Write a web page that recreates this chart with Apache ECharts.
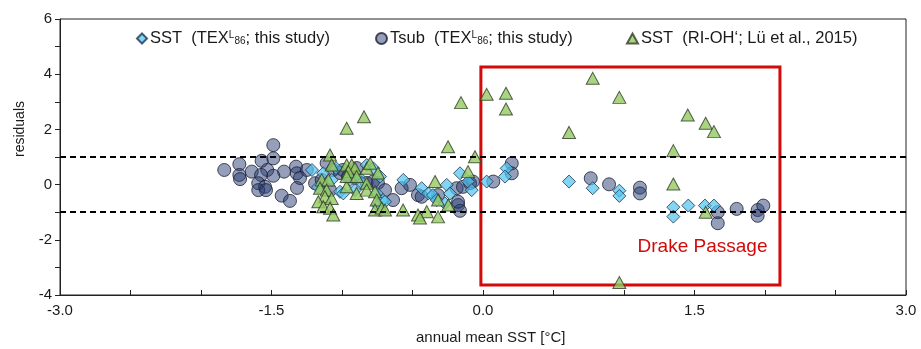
<!DOCTYPE html>
<html><head><meta charset="utf-8">
<script src="https://cdn.jsdelivr.net/npm/echarts@6/dist/echarts.min.js"></script>
<style>html,body{margin:0;padding:0;background:#fff}#c{width:921px;height:349px}</style>
</head><body><div id="c"></div>
<script>
// Tsub (TEX-L86, this study) - circles
var tsubX = [-1.835,-1.487,-1.487,-1.570,-1.728,-1.728,-1.723,-1.640,-1.530,-1.574,-1.411,-1.487,-1.594,-1.546,-1.594,-1.539,-1.428,-1.369,-1.326,-1.321,-1.319,-1.250,-1.191,-1.144,-1.109,-1.064,-1.014,-0.993,-0.896,-0.957,-0.825,-0.780,-0.745,-0.638,-0.577,-0.518,-0.461,-0.435,-0.319,-0.177,-0.163,-0.187,-0.142,-0.092,-0.071,0.204,0.204,0.073,0.764,0.894,1.113,1.113,1.665,1.665,1.799,1.948,1.948,1.988,-1.085,-1.298,-0.908,-0.695,-0.177];
var tsubY = [0.53,1.43,0.95,0.86,0.74,0.35,0.20,0.47,0.53,0.35,0.47,0.32,0.05,-0.08,-0.20,-0.20,-0.40,-0.59,0.65,0.41,-0.12,0.53,0.05,0.17,0.78,0.53,0.42,0.53,0.60,0.29,0.06,0.11,0.06,-0.56,-0.13,-0.01,-0.38,-0.44,-0.38,-0.74,-0.95,-0.13,-0.08,0.05,0.11,0.77,0.41,0.11,0.23,0.01,-0.11,-0.32,-1.00,-1.40,-0.88,-0.92,-1.13,-0.76,-0.20,0.24,0.24,-0.20,-0.62];
// SST (TEX-L86, this study) - diamonds
var sstTexX = [-0.825,-0.778,-0.884,-1.014,-0.991,-0.908,-1.073,-1.133,-0.730,-0.754,-0.943,-0.709,-0.745,-0.695,-0.565,-0.435,-0.388,-0.355,-0.328,-0.257,-0.234,-0.270,-0.163,-0.106,-0.080,0.026,0.168,0.156,0.610,0.778,0.967,0.967,1.350,1.350,1.456,1.574,1.638,-1.213,-1.043,-0.858,-1.170];
var sstTexY = [0.71,0.59,0.29,-0.26,-0.32,-0.20,0.17,0.41,0.29,-0.32,0.17,-0.56,-0.74,-0.62,0.17,-0.13,-0.32,-0.38,-0.56,-0.01,-0.32,-0.68,0.41,0.11,-0.20,0.11,0.59,0.29,0.11,-0.13,-0.22,-0.41,-0.82,-1.16,-0.76,-0.76,-0.76,0.53,0.60,0.06,-0.09];
// SST (RI-OH', Lu et al., 2015) - triangles
var sstRiX = [-1.085,-1.073,-0.967,-0.931,-0.908,-0.955,-0.825,-0.801,-1.144,-1.097,-1.156,-1.109,-1.121,-1.073,-1.168,-1.133,-1.085,-1.062,-0.967,-0.896,-0.825,-0.825,-0.766,-0.754,-0.766,-0.718,-0.967,-0.896,-0.745,-0.695,-0.340,-0.319,-0.246,-0.567,-0.461,-0.399,-0.319,-0.447,-0.106,-0.057,-0.248,-0.967,-0.844,-0.156,0.026,0.163,0.163,0.778,0.967,0.610,1.452,1.579,1.638,1.350,1.350,1.579,0.967];
var sstRiY = [1.07,0.71,0.71,0.71,0.59,0.47,0.59,0.77,0.17,0.17,-0.13,-0.20,-0.44,-0.50,-0.62,-0.80,-0.86,-1.10,-0.08,-0.32,0.05,-0.20,-0.26,-0.56,-0.92,-0.85,0.29,0.29,0.42,-0.92,0.11,-0.56,-0.74,-0.92,-1.10,-0.98,-1.17,-1.21,0.47,1.01,1.37,2.04,2.46,2.97,3.27,3.31,2.74,3.85,3.16,1.89,2.52,2.22,1.92,1.23,0.02,-1.00,-3.55];
// reference lines and Drake Passage box
var limitLines = [1, -1];
var boxX = [-0.015, 2.106];
var boxY = [-3.64, 4.26];
var xTicks = [-3.0, -1.5, 0.0, 1.5, 3.0];
var yTicks = [-4, -2, 0, 2, 4, 6];

function pairs(xs, ys){ return xs.map(function(x,i){ return [x, ys[i]]; }); }

var chart = echarts.init(document.getElementById('c'));
var FONT = '"Liberation Sans", Arial, Helvetica, sans-serif';
var rich = {
  n: {fontSize: 16.5, fontFamily: FONT, color: '#1a1a1a', lineHeight: 17},
  sup: {fontSize: 10, fontFamily: FONT, color: '#1a1a1a', verticalAlign: 'top', lineHeight: 17},
  sub: {fontSize: 10, fontFamily: FONT, color: '#1a1a1a', verticalAlign: 'bottom', lineHeight: 17, padding: [0,0,1,0]}
};
var legendText = {
  'SST (TEX)': '{n|SST  (TEX}{sup|L}{sub|86}{n|; this study)}',
  'Tsub': '{n|Tsub  (TEX}{sup|L}{sub|86}{n|; this study)}',
  'SST (RI-OH)': '{n|SST  (RI-OH\u2018; L\u00fc et al., 2015)}'
};
function mkLegend(name, left, w, h){
  return {
    data: [name], left: left, top: 30, padding: 0, itemWidth: w, itemHeight: h, itemGap: 4,
    selectedMode: false,
    formatter: function(n){ return legendText[n]; },
    textStyle: {rich: rich, padding: [0,0,0,-2]}
  };
}

var option = {
  animation: false,
  backgroundColor: '#fff',
  textStyle: {fontFamily: FONT},
  grid: {left: 60, right: 15, top: 19, bottom: 54, show: true, borderColor: '#222', borderWidth: 1, backgroundColor: 'transparent'},
  legend: [mkLegend('SST (TEX)', 136, 10, 10), mkLegend('Tsub', 375, 11, 11), mkLegend('SST (RI-OH)', 626, 11, 10)],
  xAxis: {
    type: 'value', min: -3, max: 3, interval: 0.5,
    axisLine: {onZero: false, lineStyle: {color: '#222', width: 1}},
    axisTick: {inside: true, length: 5, lineStyle: {color: '#222'}},
    splitLine: {show: false},
    axisLabel: {
      color: '#1a1a1a', fontSize: 15, fontFamily: FONT, margin: 8,
      formatter: function(v){
        for (var i=0;i<xTicks.length;i++) if (Math.abs(v - xTicks[i]) < 1e-6) return xTicks[i].toFixed(1);
        return '';
      }
    }
  },
  yAxis: {
    type: 'value', min: -4, max: 6, interval: 1,
    axisLine: {show: true, onZero: false, lineStyle: {color: '#222', width: 1}},
    axisTick: {show: true, inside: false, length: 5, lineStyle: {color: '#222'}},
    splitLine: {show: false},
    axisLabel: {
      color: '#1a1a1a', fontSize: 15, fontFamily: FONT, margin: 8,
      formatter: function(v){ return yTicks.indexOf(v) >= 0 ? String(v) : ''; }
    }
  },
  graphic: [
    {type: 'text', left: 13, top: 101, rotation: Math.PI/2, style: {text: 'residuals', fontSize: 14, fontFamily: FONT, fill: '#1a1a1a'}},
    {type: 'text', left: 416, top: 330, style: {text: 'annual mean SST [\u00b0C]', fontSize: 15, fontFamily: FONT, fill: '#1a1a1a'}}
  ],
  series: [
    {
      name: 'Tsub', type: 'scatter', symbol: 'circle', symbolSize: 13,
      data: pairs(tsubX, tsubY),
      itemStyle: {color: 'rgba(40,60,115,0.62)', borderColor: '#1b1f33', borderWidth: 1},
      markLine: {
        silent: true, symbol: ['none','none'], label: {show: false},
        lineStyle: {color: '#000', width: 2, type: [6,4]},
        data: limitLines.map(function(v){ return {yAxis: v}; })
      },
      markArea: {
        silent: true,
        itemStyle: {color: 'rgba(0,0,0,0)', borderColor: '#d20a0a', borderWidth: 3},
        label: {show: true, position: 'insideBottomRight', distance: 0, padding: [0, 14, 30, 0], color: '#d20a0a', fontSize: 19, fontFamily: FONT},
        data: [[{name: 'Drake Passage', coord: [boxX[0], boxY[1]]}, {coord: [boxX[1], boxY[0]]}]]
      }
    },
    {
      name: 'SST (TEX)', type: 'scatter', symbol: 'diamond', symbolSize: 13,
      data: pairs(sstTexX, sstTexY),
      itemStyle: {color: 'rgba(80,195,240,0.88)', borderColor: '#1d3550', borderWidth: 1}
    },
    {
      name: 'SST (RI-OH)', type: 'scatter', symbol: 'triangle', symbolSize: [13, 12],
      data: pairs(sstRiX, sstRiY),
      itemStyle: {color: '#93cb62', borderColor: '#2f3a25', borderWidth: 1}
    }
  ]
};
chart.setOption(option);
</script>
</body></html>
